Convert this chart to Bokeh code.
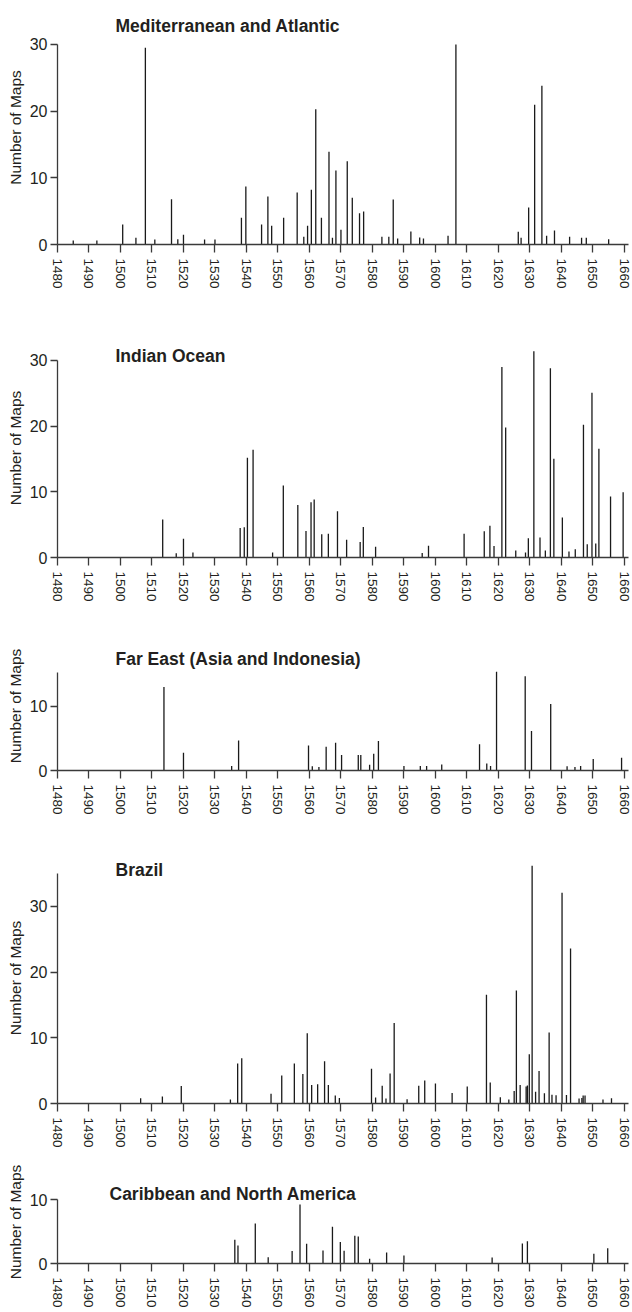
from bokeh.plotting import figure
from bokeh.models import Range1d, FixedTicker, Label, LinearAxis
from bokeh.layouts import column
from bokeh.embed import file_html
from bokeh.resources import INLINE

# ---------------- data ----------------
panel_titles = ["Mediterranean and Atlantic", "Indian Ocean",
                "Far East (Asia and Indonesia)", "Brazil",
                "Caribbean and North America"]

med_years = [1485.0, 1492.5, 1500.7, 1504.9, 1507.9, 1510.9, 1516.2, 1518.2, 1520.0, 1526.7,
             1530.0, 1538.4, 1539.8, 1544.8, 1546.8, 1548.0, 1551.8, 1556.1, 1558.2, 1559.4,
             1560.6, 1562.0, 1563.8, 1566.2, 1567.3, 1568.4, 1570.0, 1572.0, 1573.6, 1575.9,
             1577.2, 1583.0, 1585.2, 1586.6, 1588.0, 1592.2, 1595.0, 1596.2, 1604.0, 1606.5,
             1626.3, 1627.2, 1629.6, 1631.5, 1633.8, 1635.3, 1637.8, 1642.6, 1646.4, 1647.9,
             1655.0]
med_maps = [0.6, 0.6, 3.0, 1.0, 29.5, 0.75, 6.8, 0.8, 1.45, 0.75,
            0.75, 4.0, 8.7, 3.0, 7.2, 2.8, 4.0, 7.8, 1.15, 2.8,
            8.2, 20.3, 4.0, 13.9, 1.0, 11.1, 2.2, 12.5, 7.0, 4.7,
            4.95, 1.15, 1.15, 6.75, 0.9, 1.95, 1.05, 0.9, 1.3, 30.0,
            1.9, 1.0, 5.55, 20.95, 23.8, 1.3, 2.1, 1.15, 1.0, 1.0,
            0.8]

ind_years = [1513.4, 1517.7, 1520.0, 1523.0, 1538.0, 1539.3, 1540.3, 1542.1, 1548.3, 1551.7,
             1556.3, 1558.9, 1560.5, 1561.5, 1563.9, 1566.0, 1568.9, 1571.8, 1576.1, 1577.1,
             1581.0, 1595.8, 1597.8, 1609.1, 1615.5, 1617.3, 1618.6, 1621.1, 1622.3, 1625.5,
             1628.6, 1629.5, 1631.25, 1633.2, 1634.9, 1636.5, 1637.6, 1640.3, 1642.4, 1644.4,
             1647.0, 1648.2, 1649.7, 1650.9, 1651.9, 1655.6, 1659.6]
ind_maps = [5.8, 0.65, 2.85, 0.75, 4.5, 4.6, 15.2, 16.4, 0.75, 10.95,
            8.0, 4.05, 8.4, 8.85, 3.55, 3.6, 7.05, 2.7, 2.35, 4.65,
            1.65, 0.7, 1.8, 3.6, 4.0, 4.85, 1.75, 29.0, 19.8, 1.05,
            0.75, 2.95, 31.4, 3.05, 1.05, 28.8, 15.05, 6.1, 0.9, 1.25,
            20.2, 2.0, 25.1, 2.15, 16.55, 9.3, 9.95]

far_years = [1513.8, 1520.0, 1535.3, 1537.5, 1559.7, 1560.9, 1563.0, 1565.3, 1568.3, 1570.2,
             1575.5, 1576.3, 1579.1, 1580.4, 1581.9, 1590.0, 1595.2, 1597.2, 1602.0, 1614.0,
             1616.3, 1617.5, 1619.4, 1628.5, 1630.5, 1636.6, 1641.8, 1644.3, 1646.1, 1650.1,
             1659.1]
far_maps = [13.0, 2.75, 0.7, 4.65, 3.9, 0.65, 0.55, 3.7, 4.3, 2.4,
            2.4, 2.4, 0.9, 2.6, 4.6, 0.7, 0.7, 0.7, 0.95, 4.1,
            1.1, 0.7, 15.35, 14.65, 6.15, 10.35, 0.65, 0.55, 0.7, 1.8,
            2.0]

bra_years = [1506.4, 1513.3, 1519.3, 1534.9, 1537.2, 1538.5, 1547.8, 1551.2, 1555.2, 1557.9,
             1559.3, 1560.7, 1562.6, 1564.8, 1566.0, 1568.2, 1569.5, 1579.7, 1581.0, 1583.1,
             1584.3, 1585.6, 1586.9, 1591.0, 1594.7, 1596.6, 1600.0, 1605.3, 1610.1, 1616.2,
             1617.4, 1620.6, 1623.3, 1625.0, 1625.7, 1626.9, 1628.8, 1629.2, 1629.8, 1630.7,
             1631.8, 1632.9, 1634.6, 1636.1, 1637.0, 1638.3, 1640.2, 1641.6, 1642.9, 1645.6,
             1646.5, 1646.9, 1647.5, 1653.2, 1655.9]
bra_maps = [0.8, 1.05, 2.65, 0.6, 6.1, 6.9, 1.5, 4.25, 6.1, 4.5,
            10.7, 2.8, 2.95, 6.45, 2.8, 1.2, 0.85, 5.3, 0.9, 2.7,
            0.75, 4.55, 12.25, 0.65, 2.7, 3.5, 3.05, 1.6, 2.6, 16.55,
            3.2, 0.95, 0.6, 1.9, 17.2, 2.8, 2.6, 2.75, 7.5, 36.2,
            1.8, 4.95, 1.55, 10.8, 1.35, 1.25, 32.1, 1.3, 23.6, 0.75,
            0.85, 1.2, 1.2, 0.6, 0.8]

car_years = [1536.3, 1537.3, 1542.8, 1546.9, 1554.5, 1557.0, 1559.1, 1564.3, 1567.3, 1569.8,
             1571.0, 1574.4, 1575.5, 1579.1, 1584.5, 1590.0, 1618.0, 1627.6, 1629.2, 1650.3,
             1654.7]
car_maps = [3.75, 2.85, 6.3, 1.0, 1.95, 9.3, 3.1, 2.05, 5.8, 3.4,
            2.0, 4.35, 4.25, 0.75, 1.75, 1.25, 0.95, 3.15, 3.5, 1.55,
            2.4]

x_ticks = list(range(1480, 1661, 10))
y_ticks = [0, 10, 20, 30]
axis_tops = [30, 30, 15.2, 35, 10]

# ---------------- style ----------------
FONT = "Liberation Sans"
INK = "#231f20"
AXIS = "#3a3a3a"
BAR = "#1a1a1a"
X_START, X_END = 1480, 1661.3
FIG_W = 632


def panel(title, years, maps, axis_top, height, b_top, b_bottom, ppu, tx, ty):
    frame_h = height - b_top - b_bottom
    p = figure(width=FIG_W, height=height, output_backend="svg", toolbar_location=None,
               x_range=Range1d(X_START, X_END), y_range=Range1d(0, frame_h / ppu),
               min_border_left=57, min_border_right=4,
               min_border_top=b_top, min_border_bottom=b_bottom,
               x_axis_location=None, y_axis_location=None)
    p.outline_line_color = None
    p.background_fill_color = "white"
    p.border_fill_color = "white"
    for g in p.grid:
        g.visible = False

    xa = LinearAxis(ticker=FixedTicker(ticks=x_ticks, minor_ticks=[]))
    xa.major_label_orientation = "vertical"
    xa.major_label_text_font = FONT
    xa.major_label_text_font_size = "13.5px"
    xa.major_label_text_color = INK
    xa.major_label_standoff = 6
    xa.axis_line_color = AXIS
    xa.axis_line_width = 1.3
    xa.major_tick_line_color = AXIS
    xa.major_tick_line_width = 1.3
    xa.major_tick_out = 8
    xa.major_tick_in = 0
    xa.minor_tick_line_color = None
    p.add_layout(xa, "below")

    ticks_here = [t for t in y_ticks if t <= axis_top]
    ya = LinearAxis(ticker=FixedTicker(ticks=ticks_here, minor_ticks=[]),
                    bounds=(0, axis_top), axis_label="Number of Maps")
    ya.major_label_text_font = FONT
    ya.major_label_text_font_size = "16px"
    ya.major_label_text_color = INK
    ya.major_label_standoff = 3
    ya.axis_label_text_font = FONT
    ya.axis_label_text_font_size = "15.5px"
    ya.axis_label_text_font_style = "normal"
    ya.axis_label_text_color = INK
    ya.axis_label_standoff = 3
    ya.axis_line_color = AXIS
    ya.axis_line_width = 1.3
    ya.major_tick_line_color = AXIS
    ya.major_tick_line_width = 1.3
    ya.major_tick_out = 7
    ya.major_tick_in = 0
    ya.minor_tick_line_color = None
    p.add_layout(ya, "left")

    p.segment(x0=years, y0=[0] * len(years), x1=years, y1=maps,
              line_color=BAR, line_width=1.3)

    p.add_layout(Label(x=tx, y=ty, x_units="screen", y_units="screen", text=title,
                       text_font=FONT, text_font_size="17.5px", text_font_style="bold",
                       text_color=INK, text_baseline="alphabetic", text_align="left"))
    return p


data = [(med_years, med_maps), (ind_years, ind_maps), (far_years, far_maps),
        (bra_years, bra_maps), (car_years, car_maps)]
# height, border top, border bottom, px per unit, title x, title y
geom = [(318, 10, 74, 6.667, 58, 219),
        (304, 20, 65, 6.567, 58, 202),
        (208, 19, 60, 6.43, 58, 112),
        (335, 22, 62, 6.567, 58, 234),
        (145, 15, 46, 6.43, 52, 70)]

figs = []
for t, (yrs, mp), top, g in zip(panel_titles, data, axis_tops, geom):
    figs.append(panel(t, yrs, mp, top, *g))

layout = column(*figs, spacing=0)
open("out.html", "w").write(file_html(layout, INLINE))
